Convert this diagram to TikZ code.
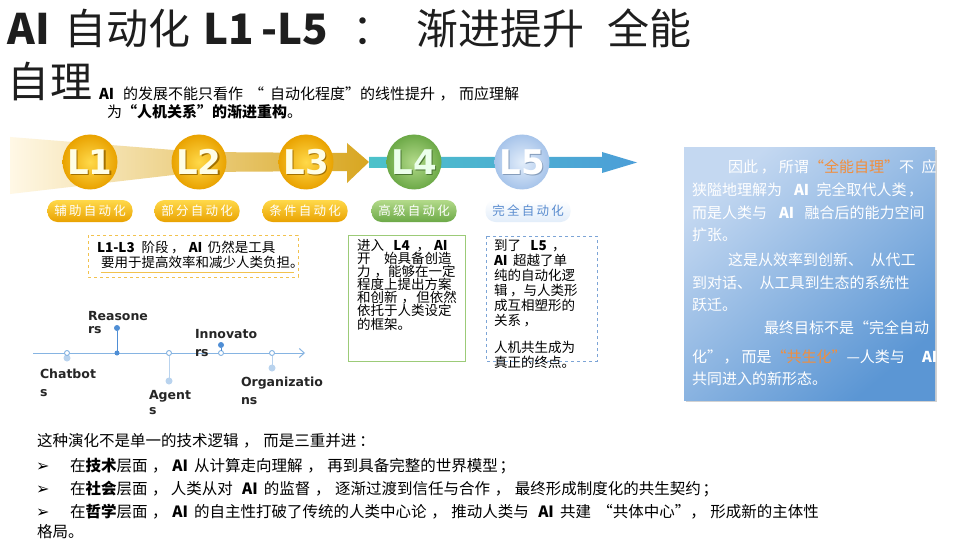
\documentclass[tikz,border=0pt]{standalone}
\usepackage{fontspec}
\setmainfont{Noto Sans CJK SC}
\newfontfamily\dv{DejaVu Sans}
\usetikzlibrary{shadows,arrows.meta,shapes.geometric}
\definecolor{gA}{HTML}{FFD94A}
\definecolor{gB}{HTML}{E9A200}
\definecolor{wedgeL}{HTML}{FFF8E6}
\definecolor{wedgeR}{HTML}{D8A620}
\definecolor{tealA}{HTML}{4CC2CA}
\definecolor{tealB}{HTML}{4C9ED8}
\definecolor{grA}{HTML}{B3DA8A}
\definecolor{grB}{HTML}{6CA947}
\definecolor{bluA}{HTML}{E2EDFA}
\definecolor{bluB}{HTML}{A7C4EA}
\definecolor{boxA}{HTML}{C4D8F1}
\definecolor{boxB}{HTML}{5B96D4}
\definecolor{hl}{HTML}{F28E3C}
\definecolor{tl}{HTML}{86B4E2}
\definecolor{tdot}{HTML}{4F8ED5}
\definecolor{tlight}{HTML}{B9D3EE}
\definecolor{ybox}{HTML}{F2C24E}
\definecolor{gbox}{HTML}{9CCB78}
\definecolor{bbox}{HTML}{7CA4D6}
\definecolor{l5txt}{HTML}{5A8CCF}
\definecolor{ttl}{HTML}{1E1E1E}
\tikzset{
  lvl/.style={ellipse, minimum width=55pt, minimum height=55pt},
  ltxt/.style={font=\dv\bfseries\fontsize{34}{34}\selectfont, text=#1},
  pill/.style={rounded corners=10pt, minimum width=85pt, minimum height=22pt,
     font=\fontsize{12.5}{12.5}\selectfont\addfontfeature{LetterSpace=18}, text=white},
  tx/.style={anchor=base west, inner sep=0pt},
  ttx/.style={tx, font=\fontsize{42}{42}\selectfont, text=ttl},
  boxtxt/.style={tx, font=\fontsize{13.5}{13.5}\selectfont},
  rtxt/.style={tx, font=\fontsize{15}{15}\selectfont, text=white},
  btxt/.style={tx, font=\fontsize{15.5}{15.5}\selectfont},
  bul/.style={tx, font=\dv\bfseries\fontsize{16}{16}\selectfont},
  tlab/.style={tx, font=\dv\bfseries\fontsize{12.5}{12.5}\selectfont, text=black!85},
  odot/.style={circle, draw=tl, fill=white, line width=0.9pt, minimum size=5pt},
  fdot/.style={circle, fill=tdot, minimum size=6pt},
  ldot/.style={circle, fill=tlight, minimum size=7pt},
}
\begin{document}
\begin{tikzpicture}[x=1pt,y=-1pt, every node/.style={inner sep=0pt, outer sep=0pt}]
\useasboundingbox (0,0) rectangle (960,540);
\fill[white] (0,0) rectangle (960,540);

% title
\node[ttx, font=\fontsize{42}{42}\selectfont\bfseries] (t1) at (8,45) {AI};
\node[ttx] (t2) at (64,45) {自动化};
\node[ttx, font=\fontsize{42}{42}\selectfont\bfseries] (t3) at (203,45) {L1};
\node[ttx, font=\fontsize{42}{42}\selectfont\bfseries] (t4) at (261,45) {-L5};
\node[ttx] (t5) at (352,45) {：};
\node[ttx] (t6) at (416,45) {渐进提升};
\node[ttx] (t7) at (607,45) {全能};
\node[ttx] (t8) at (8,98) {自理};
\node[tx, font=\fontsize{15}{15}\selectfont] (s1) at (99,100)
  {\textbf{AI}\hspace{0.6em}的发展不能只看作\hspace{0.4em}“\hspace{0.4em}自动化程度”的线性提升\hspace{0.3em}，\hspace{0.3em}而应理解};
\node[tx, font=\fontsize{15}{15}\selectfont] (s2) at (107,118)
  {为\textbf{“人机关系”的渐进重构}。};

% bands
\shade[left color=wedgeL, right color=wedgeR]
  (10,137) -- (199,152) -- (347,153) -- (347,143) -- (369,162) -- (347,183)
  -- (347,171) -- (199,172) -- (10,194) -- cycle;
\shade[left color=tealA, right color=tealB]
  (369,157) -- (602,157) -- (602,152) -- (637,162.5) -- (602,173) -- (602,168) -- (369,168) -- cycle;

% circles
\foreach \n/\x/\t in {c1/90/L1, c2/199/L2, c3/306/L3}{
  \node[lvl, inner color=gA, outer color=gB] (\n) at (\x,162) {};
  \node[ltxt=black!30!gB] at (\x+1.2,163.2) {\t};
  \node[ltxt=white!90!yellow] (\n t) at (\x,162) {\t};
}
\node[lvl, inner color=grA, outer color=grB] (c4) at (414,162) {};
\node[ltxt=grB!70!black] at (415.2,163.2) {L4};
\node[ltxt=white!92!green] (c4t) at (414,162) {L4};
\node[lvl, inner color=bluA, outer color=bluB] (c5) at (522,162) {};
\node[ltxt=bluB!80!black] at (523.2,163.2) {L5};
\node[ltxt=white] (c5t) at (522,162) {L5};

% pills
\node[pill, top color=gA, bottom color=gB] (p1) at (90,211) {辅助自动化};
\node[pill, top color=gA, bottom color=gB] (p2) at (197,211) {部分自动化};
\node[pill, top color=gA, bottom color=gB] (p3) at (305,211) {条件自动化};
\node[pill, top color=grA, bottom color=grB] (p4) at (414,211) {高级自动化};
\node[pill, top color=white, bottom color=bluA, text=l5txt] (p5) at (528,211) {完全自动化};

% box 1
\draw[ybox, dashed, line width=0.8pt] (88,235) rectangle (298,277);
\node[boxtxt] (b1a) at (97,252) {\textbf{L1-L3}\hspace{0.5em}阶段\hspace{0.2em}，\hspace{0.3em}\textbf{AI}\hspace{0.4em}仍然是工具};
\node[boxtxt] (b1b) at (101,267) {要用于提高效率和减少人类负担。};
\draw[ybox, line width=0.6pt] (101,272) -- (294,272);

% box 2
\draw[gbox, line width=1pt] (348,235) rectangle (465,361);
\node[boxtxt] (b2a) at (357,250) {进入\hspace{0.7em}\textbf{L4}\hspace{0.5em}，\hspace{0.3em}\textbf{AI}};
\node[boxtxt] (b2b) at (357,263) {开\hspace{1em}始具备创造};
\node[boxtxt] (b2c) at (357,276) {力\hspace{0.3em}，能够在一定};
\node[boxtxt] (b2d) at (357,289) {程度上提出方案};
\node[boxtxt] (b2e) at (357,302) {和创新\hspace{0.3em}，\hspace{0.1em}但依然};
\node[boxtxt] (b2f) at (357,315) {依托于人类设定};
\node[boxtxt] (b2g) at (357,329) {的框架。};

% box 3
\draw[bbox, dashed, line width=0.8pt] (486,236) rectangle (597,361);
\node[boxtxt] (b3a) at (494,250) {到了\hspace{0.7em}\textbf{L5}\hspace{0.4em}，};
\node[boxtxt] (b3b) at (494,265) {\textbf{AI}\hspace{0.4em}超越了单};
\node[boxtxt] (b3c) at (494,280) {纯的自动化逻};
\node[boxtxt] (b3d) at (494,295) {辑\hspace{0.2em}，与人类形};
\node[boxtxt] (b3e) at (494,310) {成互相塑形的};
\node[boxtxt] (b3f) at (494,325) {关系\hspace{0.2em}，};
\node[boxtxt] (b3g) at (494,352) {人机共生成为};
\node[boxtxt] (b3h) at (494,367) {真正的终点。};

% timeline
\coordinate (ts) at (33,353);
\coordinate (te) at (305,353);
\draw[tl, line width=1pt, -{Straight Barb[length=5pt,width=9pt]}] (ts) -- (te);
\node[ldot] (d1) at (67,358) {};
\node[odot] (o1) at (67,353) {};
\node[fdot] (d2) at (117,328) {};
\node[fdot, minimum size=5pt] (o2) at (117,353) {};
\draw[tdot, line width=1pt] (o2) -- (d2);
\node[ldot] (d3) at (169,381) {};
\node[odot] (o3) at (169,353) {};
\draw[tlight, line width=1pt] (o3) -- (d3);
\node[fdot] (d4) at (221,345) {};
\node[odot] (o4) at (221,353) {};
\draw[tdot, line width=1pt] (o4) -- (d4);
\node[ldot] (d5) at (272,368) {};
\node[odot] (o5) at (272,353) {};
\draw[tlight, line width=1pt] (o5) -- (d5);
\node[tlab] (n1a) at (40,378) {Chatbot};
\node[tlab] (n1b) at (40,396) {s};
\node[tlab] (n2a) at (88,320) {Reasone};
\node[tlab] (n2b) at (88,333) {rs};
\node[tlab] (n3a) at (149,399) {Agent};
\node[tlab] (n3b) at (149,414) {s};
\node[tlab] (n4a) at (195,338) {Innovato};
\node[tlab] (n4b) at (195,356) {rs};
\node[tlab] (n5a) at (241,386) {Organizatio};
\node[tlab] (n5b) at (241,404) {ns};

% right box
\path[drop shadow={opacity=0.35, shadow xshift=2pt, shadow yshift=-2pt},
  top color=boxA, bottom color=boxB, shading angle=40] (684,148) rectangle (935,400);
\begin{scope}
\clip (684,148) rectangle (935,400);
\node[rtxt] (r1) at (728,173) {因此\hspace{0.2em}，\hspace{0.2em}所谓\textcolor{hl}{“全能自理”}不\hspace{0.5em}应};
\node[rtxt] (r2) at (692,196) {狭隘地理解为\hspace{0.8em}\textbf{AI}\hspace{0.5em}完全取代人类\hspace{0.1em}，};
\node[rtxt] (r3) at (692,218) {而是人类与\hspace{0.8em}\textbf{AI}\hspace{0.7em}融合后的能力空间};
\node[rtxt] (r4) at (692,240) {扩张。};
\node[rtxt] (r5) at (728,265) {这是从效率到创新、\hspace{0.5em}从代工};
\node[rtxt] (r6) at (692,288) {到对话、\hspace{0.5em}从工具到生态的系统性};
\node[rtxt] (r7) at (692,310) {跃迁。};
\node[rtxt] (r8) at (764,333) {最终目标不是“完全自动};
\node[rtxt] (r9) at (692,362) {化”\hspace{0.1em}，\hspace{0.2em}而是\textcolor{hl}{“共生化”}—人类与};
\node[rtxt] (r9b) at (922,362) {\textbf{AI}};
\node[rtxt] (r10) at (692,384) {共同进入的新形态。};
\end{scope}

% bottom text
\node[btxt] (q0) at (37,446) {这种演化不是单一的技术逻辑\hspace{0.3em}，\hspace{0.3em}而是三重并进\hspace{0.2em}：};
\node[bul] (k1) at (36,471) {➢};
\node[bul] (k2) at (36,494) {➢};
\node[bul] (k3) at (36,517) {➢};
\node[btxt] (q1) at (70,471) {在\textbf{技术}层面\hspace{0.3em}，\hspace{0.3em}\textbf{AI}\hspace{0.4em}从计算走向理解\hspace{0.3em}，\hspace{0.3em}再到具备完整的世界模型\hspace{0.1em}；};
\node[btxt] (q2) at (70,494) {在\textbf{社会}层面\hspace{0.3em}，\hspace{0.2em}人类从对\hspace{0.6em}\textbf{AI}\hspace{0.4em}的监督\hspace{0.3em}，\hspace{0.3em}逐渐过渡到信任与合作\hspace{0.3em}，\hspace{0.3em}最终形成制度化的共生契约\hspace{0.1em}；};
\node[btxt] (q3) at (70,517) {在\textbf{哲学}层面\hspace{0.3em}，\hspace{0.3em}\textbf{AI}\hspace{0.4em}的自主性打破了传统的人类中心论\hspace{0.3em}，\hspace{0.3em}推动人类与\hspace{0.6em}\textbf{AI}\hspace{0.4em}共建\hspace{0.4em}“共体中心”，\hspace{0.3em}形成新的主体性};
\node[btxt] (q4) at (37,537) {格局。};
\end{tikzpicture}
\end{document}
